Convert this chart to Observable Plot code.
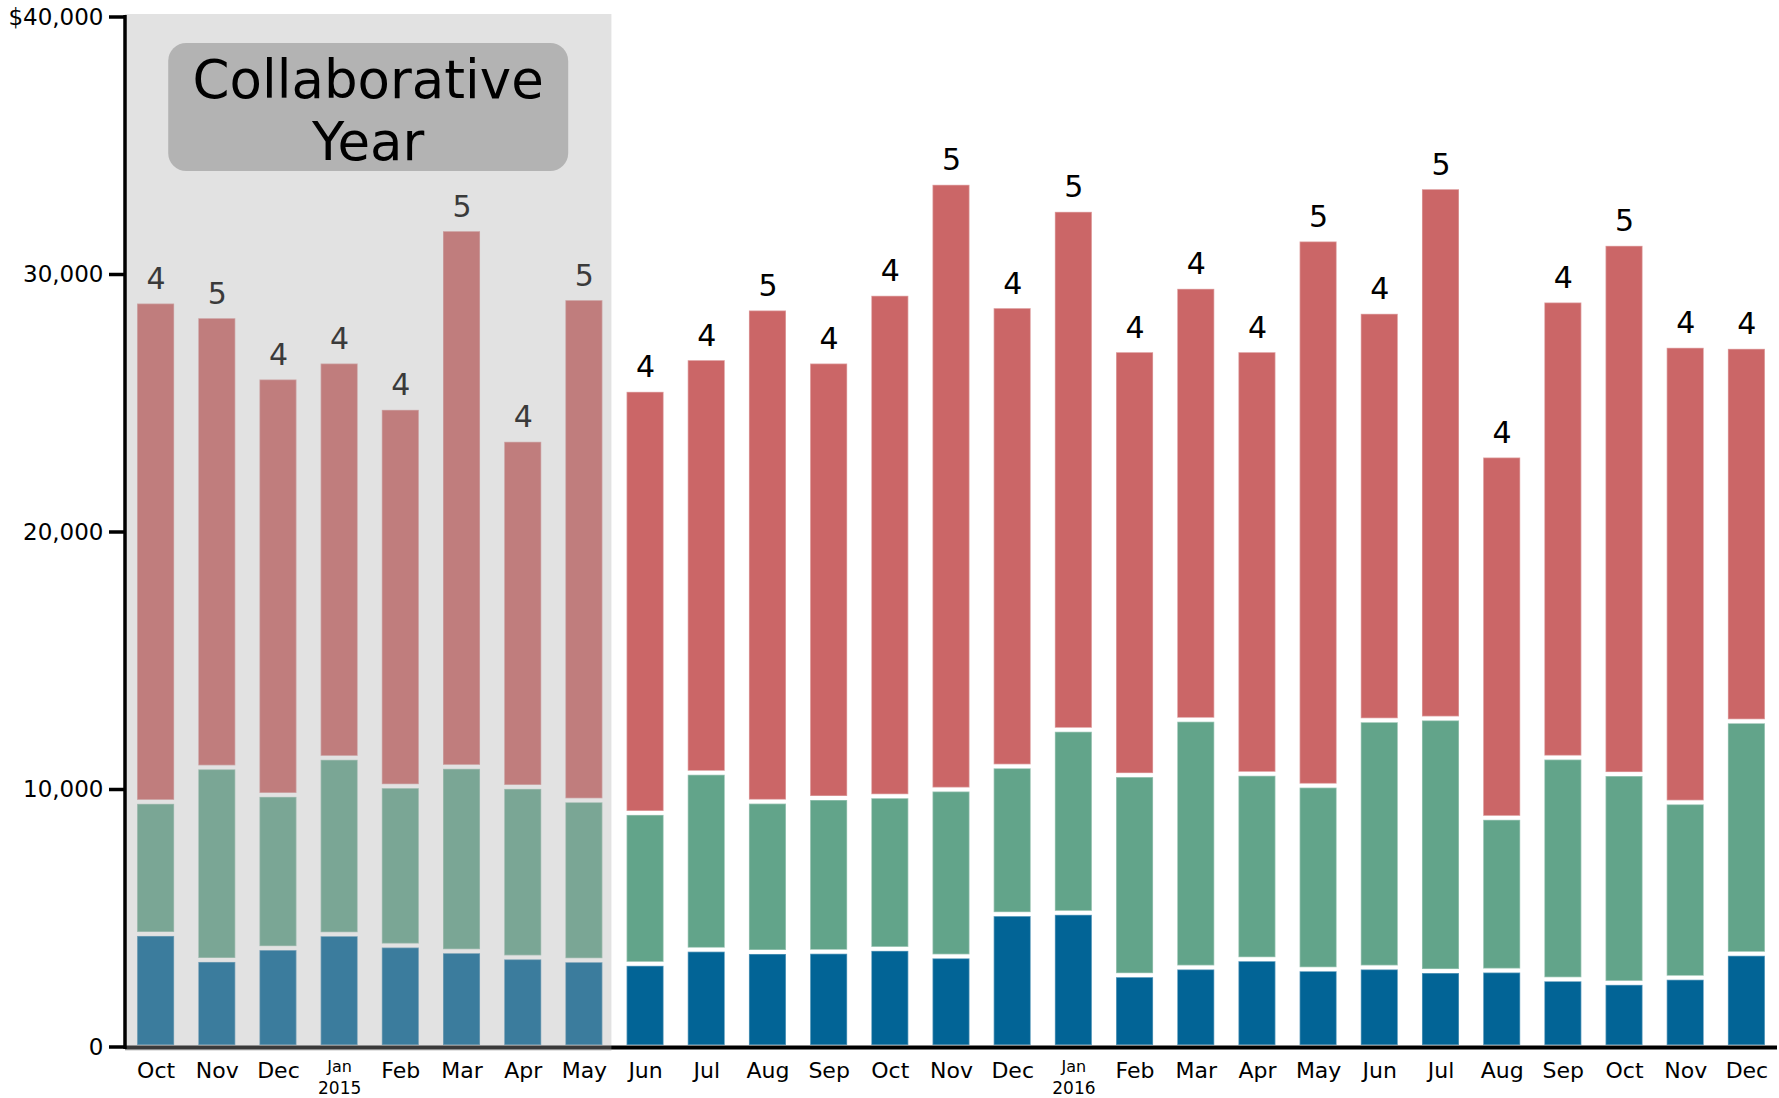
<!DOCTYPE html>
<html>
<head>
<meta charset="utf-8">
<script src="https://cdn.jsdelivr.net/npm/d3@7"></script>
<script src="https://cdn.jsdelivr.net/npm/@observablehq/plot@0.6"></script>
<style>
  html, body { margin: 0; padding: 0; background: #fff; }
  #chart svg { font-family: "DejaVu Sans", Verdana, sans-serif; display: block; }
</style>
</head>
<body>
<div id="chart"></div>
<script>
// ---- data ----
const periods = ["2014-10","2014-11","2014-12","2015-01","2015-02","2015-03","2015-04","2015-05","2015-06","2015-07","2015-08","2015-09","2015-10","2015-11","2015-12","2016-01","2016-02","2016-03","2016-04","2016-05","2016-06","2016-07","2016-08","2016-09","2016-10","2016-11","2016-12"];
const monthLabels = ["Oct","Nov","Dec","Jan","Feb","Mar","Apr","May","Jun","Jul","Aug","Sep","Oct","Nov","Dec","Jan","Feb","Mar","Apr","May","Jun","Jul","Aug","Sep","Oct","Nov","Dec"];
const yearLabels = {"2015-01": "2015", "2016-01": "2016"};
const collabPeriods = ["2014-10","2014-11","2014-12","2015-01","2015-02","2015-03","2015-04","2015-05"];

const seriesNames = ["Series 1", "Series 2", "Series 3"];
const seriesColors = ["#026496", "#62a48a", "#cb6667"];

const series1 = [4390,3380,3840,4380,3940,3720,3480,3370,3230,3780,3690,3700,3810,3520,5160,5210,2790,3090,3410,3020,3090,2950,2970,2630,2490,2690,3620];
const series2 = [5130,7480,5950,6850,6190,7160,6620,6210,5860,6870,5840,5970,5930,6480,5740,7110,7770,9620,7200,7130,9600,9810,5930,8610,8110,6810,9030];
const series3 = [19430,17520,16210,15390,14690,20880,13480,19500,16430,16100,19150,16950,19510,23560,17870,20190,16500,16810,16450,21210,15860,20630,14070,17750,20590,17730,14540];
const counts  = [4,5,4,4,4,5,4,5,4,4,5,4,4,5,4,5,4,4,4,5,4,5,4,4,5,4,4];

const yTicks = [0, 10000, 20000, 30000, 40000];
const yTickLabels = ["0", "10,000", "20,000", "30,000", "$40,000"];
const annotationLines = ["Collaborative", "Year"];

// ---- derived tables ----
const values = [series1, series2, series3];
const rows = [];
periods.forEach((p, i) => {
  values.forEach((vals, s) => rows.push({period: p, series: seriesNames[s], value: vals[i]}));
});
const totals = periods.map((p, i) => ({period: p, total: series1[i] + series2[i] + series3[i], count: counts[i]}));
const xLabels = periods.map((p, i) => ({period: p, label: monthLabels[i], year: yearLabels[p] || null}));
const yTickRows = yTicks.map((v, i) => ({v, label: yTickLabels[i]}));

function bw(x) { return typeof x.bandwidth === "function" ? x.bandwidth() : x.bandwidth; }
function shadeBounds(scales, dims) {
  const x = scales.x, y = scales.y;
  const x0 = dims.marginLeft;
  const x1 = x(collabPeriods[collabPeriods.length - 1]) + bw(x) + 9;
  return {x0, x1, y0: y(40000) - 3, y1: y(0) + 4};
}

// shaded "collaborative year" overlay drawn over the bars
function shadeMark(index, scales, vals, dims) {
  const b = shadeBounds(scales, dims);
  const g = d3.create("svg:g");
  g.append("rect").attr("x", b.x0).attr("y", b.y0).attr("width", b.x1 - b.x0).attr("height", b.y1 - b.y0)
    .attr("fill", "#aaaaaa").attr("fill-opacity", 0.34);
  return g.node();
}

// y axis line and thick ticks
function yAxisMark(index, scales, vals, dims) {
  const y = scales.y;
  const x0 = dims.marginLeft;
  const g = d3.create("svg:g");
  g.append("line").attr("x1", x0).attr("x2", x0).attr("y1", y(40000) - 2).attr("y2", y(0) + 2)
    .attr("stroke", "#000").attr("stroke-width", 3.5);
  for (const t of yTicks) {
    g.append("line").attr("x1", x0 - 16).attr("x2", x0).attr("y1", y(t)).attr("y2", y(t))
      .attr("stroke", "#000").attr("stroke-width", 3.5);
  }
  return g.node();
}

// annotation box
function annotationMark(index, scales, vals, dims) {
  const b = shadeBounds(scales, dims);
  const cx = (b.x0 + b.x1) / 2;
  const top = scales.y(40000) + 26;
  const g = d3.create("svg:g");
  g.append("rect").attr("x", cx - 200).attr("y", top).attr("width", 400).attr("height", 128)
    .attr("rx", 18).attr("ry", 18).attr("fill", "#b3b3b3");
  annotationLines.forEach((line, i) => {
    g.append("text").attr("x", cx).attr("y", top + 55 + i * 62).attr("text-anchor", "middle")
      .attr("font-size", 53).attr("fill", "#000").text(line);
  });
  return g.node();
}

const chart = Plot.plot({
  width: 1779,
  height: 1098,
  marginLeft: 125,
  marginRight: 2,
  marginTop: 17,
  marginBottom: 51,
  style: {fontFamily: "DejaVu Sans, Verdana, sans-serif", background: "#fff"},
  x: {domain: periods, paddingInner: 0.395, paddingOuter: 0.1975, round: false, axis: null},
  y: {domain: [0, 40000], axis: null},
  color: {domain: seriesNames, range: seriesColors},
  marks: [
    Plot.barY(rows, {x: "period", y: "value", fill: "series", insetTop: 2, insetBottom: 2,
      stroke: "#ffffff", strokeOpacity: 0.35, strokeWidth: 1.5}),
    Plot.ruleY([0], {stroke: "#000", strokeWidth: 4}),
    Plot.text(totals, {x: "period", y: "total", text: d => String(d.count), lineAnchor: "bottom",
      dy: -13, fontSize: 30, fill: "#000"}),
    shadeMark,
    yAxisMark,
    Plot.text(yTickRows, {y: "v", text: "label", frameAnchor: "left", textAnchor: "end", dx: -22,
      lineAnchor: "middle", fontSize: 23, fill: "#000"}),
    annotationMark,
    Plot.text(xLabels.filter(d => !d.year), {x: "period", text: "label", frameAnchor: "bottom",
      lineAnchor: "middle", dy: 23, fontSize: 22, fill: "#000"}),
    Plot.text(xLabels.filter(d => d.year), {x: "period", text: "label", frameAnchor: "bottom",
      lineAnchor: "middle", dy: 19, fontSize: 16, fill: "#000"}),
    Plot.text(xLabels.filter(d => d.year), {x: "period", text: "year", frameAnchor: "bottom",
      lineAnchor: "middle", dy: 41, fontSize: 17, fill: "#000"})
  ]
});
document.getElementById("chart").appendChild(chart);
</script>
</body>
</html>
